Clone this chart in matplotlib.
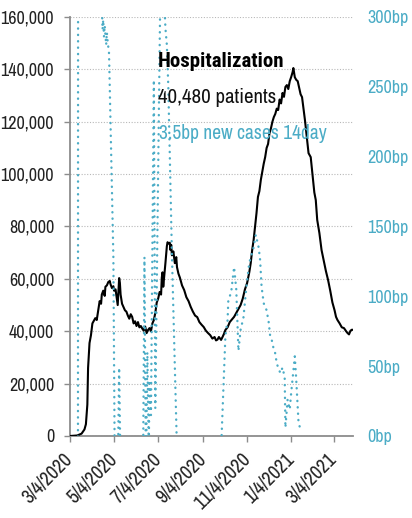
import matplotlib
matplotlib.use("Agg")
import matplotlib.pyplot as plt
import matplotlib.transforms as mtransforms
import pandas as pd

plt.rcParams['font.family'] = ['Archivo Narrow', 'Barlow Condensed', 'Liberation Sans', 'DejaVu Sans']

START = pd.Timestamp('2020-03-04')

# hospitalized patients (days since 3/4/2020)
hosp_day = [0, 10, 16, 20, 22, 24, 25, 27, 29, 31, 33, 35, 37, 39, 41, 43, 44, 46, 48, 49,
            51, 53, 55, 56, 58, 60, 61, 63, 64, 65, 66, 67, 68, 69, 70, 72, 74, 76, 78, 80,
            82, 84, 86, 88, 90, 92, 94, 96, 98, 100, 102, 104, 106, 108, 110, 112, 114, 116,
            118, 120, 122, 124, 126, 127, 128, 129, 130, 132, 134, 135, 136, 138, 139, 140,
            141, 143, 145, 147, 148, 150, 152, 155, 158, 161, 164, 167, 170, 173, 176, 179,
            182, 185, 188, 191, 194, 197, 200, 202, 204, 206, 209, 211, 213, 215, 218, 221,
            224, 227, 230, 233, 236, 239, 242, 245, 248, 250, 252, 254, 256, 258, 260, 262,
            264, 266, 268, 270, 272, 274, 276, 278, 280, 282, 284, 286, 288, 290, 292, 294,
            296, 298, 300, 302, 304, 306, 308, 309, 311, 313, 315, 317, 319, 321, 323, 325,
            328, 330, 333, 336, 338, 340, 342, 345, 348, 351, 354, 357, 360, 363, 366, 368,
            370, 373, 376, 379, 382, 384, 386, 388, 390, 392]
hosp_val = [0, 200, 900, 2500, 4500, 12000, 26000, 35500, 38500, 43000, 44000, 45000, 44300,
            48000, 51500, 50500, 54000, 55500, 53500, 57000, 57500, 58800, 59200, 58000, 56500,
            57200, 55500, 56000, 54000, 52000, 50000, 55000, 60300, 58500, 54000, 50500, 49300,
            48000, 47500, 46000, 44800, 46500, 45500, 43000, 43800, 42000, 43500, 41500, 42000,
            41000, 40200, 41800, 39300, 40500, 41200, 40000, 43000, 44300, 47000, 51000, 52500,
            55000, 54000, 60500, 62500, 57000, 60000, 66000, 72500, 74000, 73500, 73800, 71000,
            73000, 69000, 70500, 66000, 68300, 64500, 62000, 60500, 57500, 55700, 53000, 51500,
            49300, 47500, 46000, 45400, 43500, 42500, 41600, 40200, 39300, 38500, 37200, 37800,
            36500, 36800, 37800, 36700, 37800, 39000, 40500, 41500, 43500, 44500, 45500, 47000,
            48500, 50000, 52500, 56000, 58400, 62500, 66000, 71000, 74800, 80000, 85100, 91300,
            93500, 97800, 101000, 104000, 106500, 110000, 111500, 115700, 117500, 120000, 121800,
            123000, 125000, 124500, 128500, 127000, 131000, 129500, 133300, 134000, 132500,
            135500, 137100, 139000, 140500, 137000, 136000, 135500, 133000, 130500, 129400,
            125000, 120700, 113000, 108000, 106500, 98500, 93000, 90100, 82500, 77500, 71000,
            67000, 63000, 59600, 55500, 51000, 48000, 45500, 44300, 43000, 41500, 41200, 40000,
            39300, 38800, 40200, 40600, 40480]

# new cases 14 day, basis points
case_day = [8, 11, 12, 30, 43, 45, 46, 47, 48, 50, 51, 52, 54, 60, 62, 66, 68, 70, 101, 103,
            105, 107, 109, 110, 112, 116, 118, 125, 129, 132, 134, 136, 141, 148, 209, 215,
            218, 219, 223, 227, 230, 233, 236, 240, 244, 248, 254, 257, 261, 263, 265, 268,
            272, 275, 277, 279, 281, 284, 286, 288, 291, 294, 297, 298, 301, 304, 306, 311,
            313, 316, 319]
case_bp = [-40, -40, 2000, 600, 330, 291, 298, 286, 294, 280, 289, 283, 274, 128, -30, -30, 49,
           -30, -30, 128, -30, 60, -10, 40, 15, 255, 20, 320, 330, 292, 280, 250, 130, -10,
           -10, 72, 83, 97, 103, 121, 105, 61, 76, 85, 107, 124, 135, 144, 135, 126, 107, 95,
           90, 81, 71, 69, 64, 59, 52, 49, 45, 49, 42, 6, 26, 19, 31, 57, 40, 11, 3.5]

xtick_dates = ['2020-03-04', '2020-05-04', '2020-07-04', '2020-09-04', '2020-11-04',
               '2021-01-04', '2021-03-04']
xtick_labels = ['3/4/2020', '5/4/2020', '7/4/2020', '9/4/2020', '11/4/2020', '1/4/2021',
                '3/4/2021']
left_ticks = [0, 20000, 40000, 60000, 80000, 100000, 120000, 140000, 160000]
right_ticks = [0, 50, 100, 150, 200, 250, 300]

BLUE = '#4BACC6'
GREY = '#8c8c8c'

hosp_x = START + pd.to_timedelta(hosp_day, unit='D')
case_x = START + pd.to_timedelta(case_day, unit='D')

fig = plt.figure(figsize=(4.12, 5.18), dpi=100)
ax = fig.add_axes([70 / 412, 1 - 436 / 518, 283 / 412, 419 / 518])
ax2 = ax.twinx()

ax.plot(hosp_x, hosp_val, color='black', lw=1.5, zorder=3)
ax2.plot(case_x, case_bp, color=BLUE, lw=1.7, linestyle=(0, (0.1, 2.6)),
         dash_capstyle='round')

ax.set_ylim(0, 160000)
ax2.set_ylim(0, 300)
ax.set_xlim(START, START + pd.Timedelta(days=391.5))

ax.set_yticks(left_ticks)
ax.set_yticklabels([f'{v:,}' for v in left_ticks])
ax2.set_yticks(right_ticks)
ax2.set_yticklabels([f'{v}bp' for v in right_ticks])
ax.set_xticks(pd.to_datetime(xtick_dates))
ax.set_xticklabels(xtick_labels, rotation=45, ha='right', va='center',
                   rotation_mode='anchor')

# nudge the rotated date labels so their ends sit at the ticks
shift = mtransforms.ScaledTranslation(4 / 100, 0, fig.dpi_scale_trans)
for lab in ax.get_xticklabels():
    lab.set_transform(lab.get_transform() + shift)

ax.grid(axis='y', color='#b8b8b8', lw=0.8, linestyle=(0, (1, 1.5)))
ax.set_axisbelow(True)

for a in (ax, ax2):
    a.spines['top'].set_visible(False)
    a.spines['right'].set_visible(False)
    a.patch.set_visible(False)
ax2.spines['left'].set_visible(False)
ax2.spines['bottom'].set_visible(False)
ax.spines['left'].set_color(GREY)
ax.spines['bottom'].set_color(GREY)
ax.spines['left'].set_linewidth(1.3)
ax.spines['bottom'].set_linewidth(1.3)

ax.tick_params(axis='y', length=4.5, width=1, color=GREY, pad=7, labelsize=13,
               labelcolor='#222222')
ax.tick_params(axis='x', length=4.5, width=1, color=GREY, pad=10, labelsize=14,
               labelcolor='#222222')
ax2.tick_params(axis='y', length=0, pad=10, labelsize=13, labelcolor=BLUE)

ax2.text(0.311, 0.893, 'Hospitalization', transform=ax.transAxes, fontsize=15,
         fontweight='bold', va='center', ha='left', color='black',
         family=['Roboto Condensed', 'Barlow Semi Condensed', 'Archivo', 'DejaVu Sans'])
ax2.text(0.311, 0.807, f'{hosp_val[-1]:,} patients', transform=ax.transAxes,
         fontsize=15, va='center', ha='left', color='#111111')
ax2.text(0.315, 0.723, f'{case_bp[-1]}bp new cases 14day', transform=ax.transAxes,
         fontsize=14, va='center', ha='left', color=BLUE)

fig.savefig('out.png', dpi=100)
